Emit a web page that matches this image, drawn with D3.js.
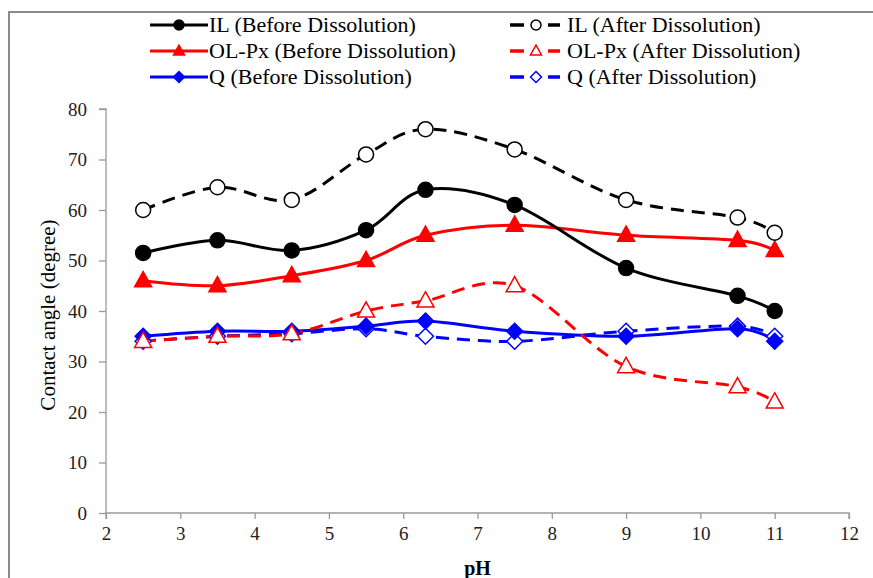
<!DOCTYPE html>
<html><head><meta charset="utf-8">
<script src="https://cdn.jsdelivr.net/npm/d3@7"></script>
<style>body{margin:0;background:#fff}svg{display:block}svg text{font-family:"Liberation Serif","Times New Roman",serif}</style>
</head><body>
<svg id="c" width="873" height="578"></svg>
<script>
const pH = [2.5, 3.5, 4.5, 5.5, 6.3, 7.5, 9, 10.5, 11];
const ilBefore = [51.5, 54, 52, 56, 64, 61, 48.5, 43, 40];
const ilAfter = [60, 64.5, 62, 71, 76, 72, 62, 58.5, 55.5];
const olBefore = [46, 45, 47, 50, 55, 57, 55, 54, 52];
const olAfter = [34, 35, 35.5, 40, 42, 45, 29, 25, 22];
const qBefore = [35, 36, 36, 37, 38, 36, 35, 36.5, 34];
const qAfter = [34, 35, 35.5, 36.5, 35, 34, 36, 37, 35];
const xTicks = [2, 3, 4, 5, 6, 7, 8, 9, 10, 11, 12];
const yTicks = [0, 10, 20, 30, 40, 50, 60, 70, 80];
const seriesNames = ["IL (Before Dissolution)", "IL (After Dissolution)", "OL-Px (Before Dissolution)", "OL-Px (After Dissolution)", "Q (Before Dissolution)", "Q (After Dissolution)"];

const series = [
  {name: seriesNames[0], values: ilBefore, color: "#000", dash: null, marker: "circle", filled: true},
  {name: seriesNames[1], values: ilAfter, color: "#000", dash: "13,8", marker: "circle", filled: false},
  {name: seriesNames[2], values: olBefore, color: "#f00", dash: null, marker: "triangle", filled: true},
  {name: seriesNames[3], values: olAfter, color: "#f00", dash: "13,8", marker: "triangle", filled: false},
  {name: seriesNames[4], values: qBefore, color: "#00f", dash: null, marker: "diamond", filled: true},
  {name: seriesNames[5], values: qAfter, color: "#00f", dash: "13,8", marker: "diamond", filled: false}
];

const svg = d3.select("#c");
svg.append("rect").attr("x", 9).attr("y", 12).attr("width", 900).attr("height", 600)
  .attr("fill", "#fff").attr("stroke", "#8a8a8a").attr("stroke-width", 2);

const x = d3.scaleLinear().domain([2, 12]).range([106, 849]);
const y = d3.scaleLinear().domain([0, 80]).range([513, 109]);

const axisColor = "#999";
const gx = svg.append("g").attr("transform", "translate(0,513)")
  .call(d3.axisBottom(x).tickValues(xTicks).tickFormat(d3.format("d")).tickSize(6).tickPadding(8));
const gy = svg.append("g").attr("transform", "translate(106,0)")
  .call(d3.axisLeft(y).tickValues(yTicks).tickFormat(d3.format("d")).tickSize(7).tickPadding(12));
[gx, gy].forEach(g => {
  g.select(".domain").attr("stroke", axisColor).attr("stroke-width", 1.3);
  g.selectAll(".tick line").attr("stroke", axisColor).attr("stroke-width", 1.3);
  g.selectAll("text").attr("font-size", 19).attr("fill", "#222");
});
gy.select(".domain").attr("d", "M-7,109H0V513");
gx.select(".domain").attr("d", "M106,6V0H849V6");

svg.append("text").attr("x", x(7)).attr("y", 575).attr("text-anchor", "middle")
  .attr("font-size", 20).attr("font-weight", "bold").text("pH");
svg.append("text").attr("transform", "translate(55,315) rotate(-90)").attr("text-anchor", "middle")
  .attr("font-size", 21).text("Contact angle (degree)");

function marker(g, type, cx, cy, color, filled, s) {
  let el;
  if (type === "circle") {
    el = g.append("circle").attr("cx", cx).attr("cy", cy).attr("r", s);
  } else if (type === "triangle") {
    const h = s * 1.8;
    el = g.append("path").attr("d", `M${cx},${cy - h * 0.6}L${cx + s},${cy + h * 0.4}L${cx - s},${cy + h * 0.4}Z`);
  } else {
    el = g.append("path").attr("d", `M${cx},${cy - s}L${cx + s},${cy}L${cx},${cy + s}L${cx - s},${cy}Z`);
  }
  el.attr("fill", filled ? color : "#fff").attr("stroke", color).attr("stroke-width", 1.5);
}

const line = d3.line().curve(d3.curveCatmullRom.alpha(0)).x(d => x(d[0])).y(d => y(d[1]));
const sizes = {circle: 7.5, triangle: 8.5, diamond: 8};
const order = [5, 4, 3, 2, 1, 0];
order.forEach(i => {
  const s = series[i];
  const pts = pH.map((p, j) => [p, s.values[j]]);
  svg.append("path").attr("d", line(pts)).attr("fill", "none").attr("stroke", s.color)
    .attr("stroke-width", 3).attr("stroke-dasharray", s.dash);
});
order.forEach(i => {
  const s = series[i];
  const g = svg.append("g");
  pH.forEach((p, j) => marker(g, s.marker, x(p), y(s.values[j]), s.color, s.filled, sizes[s.marker]));
});

// legend
const legRows = [25, 51, 77];
series.forEach((s, i) => {
  const col = i % 2, row = Math.floor(i / 2);
  const ly = legRows[row];
  const g = svg.append("g");
  if (col === 0) {
    g.append("line").attr("x1", 150).attr("x2", 208).attr("y1", ly).attr("y2", ly)
      .attr("stroke", s.color).attr("stroke-width", 3);
    marker(g, s.marker, 179, ly, s.color, true, s.marker === "circle" ? 5 : 5.5);
    g.append("text").attr("x", 209).attr("y", ly + 7).attr("font-size", 22).text(s.name);
  } else {
    g.append("line").attr("x1", 510).attr("x2", 560).attr("y1", ly).attr("y2", ly)
      .attr("stroke", s.color).attr("stroke-width", 3.5).attr("stroke-dasharray", "14,24");
    marker(g, s.marker, 536, ly, s.color, false, s.marker === "circle" ? 5 : 5.5);
    g.append("text").attr("x", 567).attr("y", ly + 7).attr("font-size", 22).text(s.name);
  }
});
</script>
</body></html>
